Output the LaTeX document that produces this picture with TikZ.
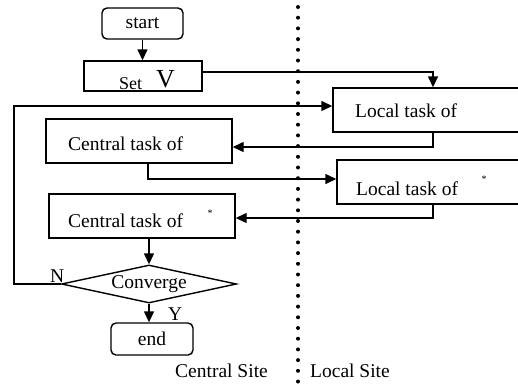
\documentclass[tikz,border=0pt]{standalone}
\usepackage{fontspec}
\setmainfont{Liberation Serif}
\usetikzlibrary{arrows.meta,shapes.geometric,calc}
\begin{document}
\begin{tikzpicture}[x=1pt,y=-1pt,
  box/.style={draw,line width=1.4pt,inner sep=0pt},
  rbox/.style={box,rounded corners=5pt},
  mainf/.style={font=\fontsize{19.5}{22}\selectfont},
  txt/.style={inner sep=0pt,anchor=base west,mainf},
  arr/.style={line width=1.4pt,-{Triangle[length=11pt,width=10pt]}},
  ast/.style={inner sep=0pt,font=\fontsize{10}{10}\selectfont}]
\useasboundingbox (0,0) rectangle (518,383);
% boxes
\node[rbox,mainf,minimum width=81pt,minimum height=31pt] (start) at (142.5,23.5) {start};
\node[box,minimum width=118pt,minimum height=30pt] (setv) at (143,76) {};
\node[txt,font=\fontsize{18}{20}\selectfont] (sett) at (119,89) {Set};
\node[txt,font=\fontsize{26}{26}\selectfont] (vt) at (156,87.5) {V};
\node[box,minimum width=200pt,minimum height=44pt] (local1) at (433,110) {};
\node[txt] (l1t) at (355,117) {Local task of};
\node[box,minimum width=186pt,minimum height=44pt] (central1) at (139,141) {};
\node[txt] (c1t) at (68,150) {Central task of};
\node[box,minimum width=200pt,minimum height=44pt] (local2) at (437,182) {};
\node[txt] (l2t) at (356,195) {Local task of};
\node[ast] (a2) at (484,179) {*};
\node[box,minimum width=186pt,minimum height=44pt] (central2) at (142,216) {};
\node[txt] (c2t) at (68,227) {Central task of};
\node[ast] (a1) at (210,213) {*};
\node[draw,diamond,line width=1.4pt,minimum width=175pt,minimum height=38pt,inner sep=0pt,aspect=4.6,mainf] (dia) at (149,284) {Converge};
\node[rbox,mainf,minimum width=82pt,minimum height=32pt] (end) at (152,339) {end};
% labels
\node[txt] (nlab) at (50,282) {N};
\node[txt] (ylab) at (168,320) {Y};
\node[txt] (cs) at (175,377) {Central Site};
\node[txt] (ls) at (310,377) {Local Site};
% connectors
\draw[arr] (start.south) -- (start.south |- setv.north);
\draw[arr] ([yshift=4pt]setv.east) -| (local1.north);
\draw[arr] (dia.west) -- ++(-47,0) |- ([yshift=4pt]local1.west);
\draw[arr] (local1.south) |- ([yshift=-6pt]central1.east);
\draw[arr] ([xshift=9pt]central1.south) |- ([yshift=3pt]local2.west);
\draw[arr] ([xshift=-4pt]local2.south) |- ([yshift=-2pt]central2.east);
\draw[arr] ([xshift=7pt]central2.south) -- ([xshift=7pt]central2.south |- dia.north);
\draw[arr] (dia.south) -- (dia.south |- end.north);
% separator
\draw[line width=4pt,line cap=round,dash pattern=on 0pt off 10.7pt] (298,7) -- (298,390);
\end{tikzpicture}
\end{document}
